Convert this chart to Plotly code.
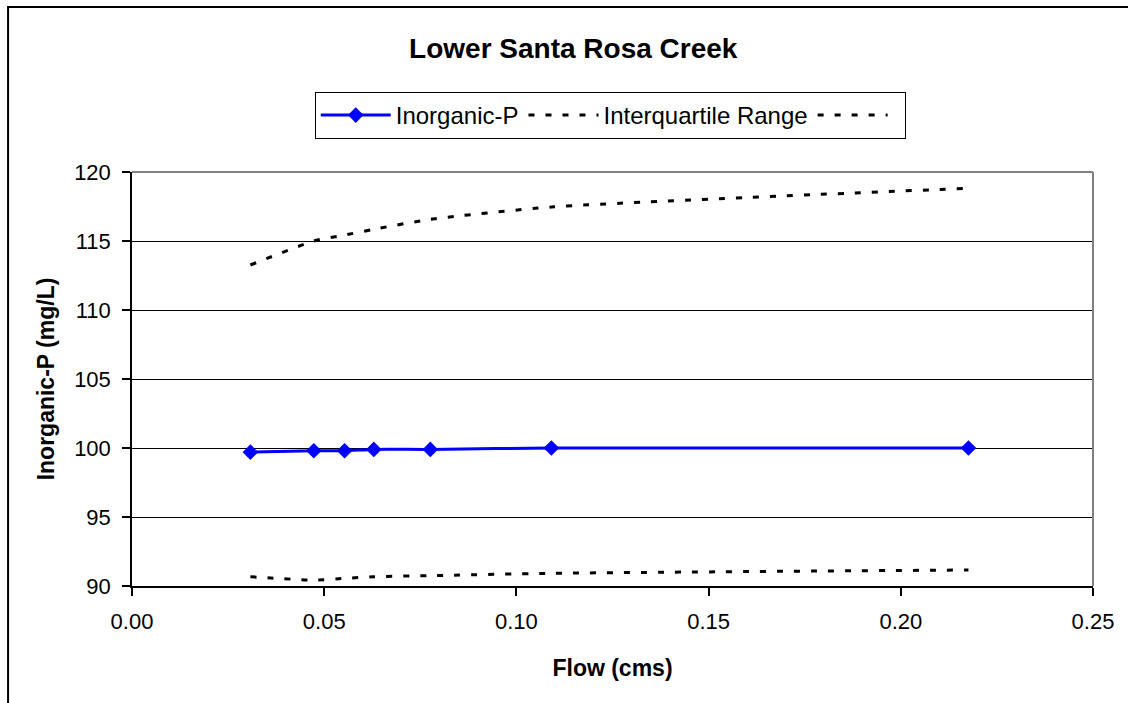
import plotly.graph_objects as go

flow = [0.0308, 0.0473, 0.0553, 0.0629, 0.0776, 0.1091, 0.2176]
inorganic_p = [99.7, 99.8, 99.8, 99.9, 99.9, 100.0, 100.0]
iqr_upper = [113.26, 115.0, 115.43, 115.85, 116.57, 117.46, 118.82]
iqr_lower = [90.67, 90.43, 90.55, 90.67, 90.75, 90.92, 91.16]

x_ticks = [0.0, 0.05, 0.10, 0.15, 0.20, 0.25]
y_ticks = [90, 95, 100, 105, 110, 115, 120]

FONT = "Liberation Sans, Arial, sans-serif"
W, H = 1128, 703
# plot-area edges in page pixels
L, R, T, B = 131.5, 1093, 172, 586

def px(x):
    return (x - L) / (R - L)

def py(y):
    return (B - y) / (B - T)

fig = go.Figure()
fig.add_trace(go.Scatter(
    x=flow, y=inorganic_p, name="Inorganic-P", mode="lines+markers",
    line=dict(color="#0000FF", width=3, shape="spline", smoothing=0.6),
    marker=dict(symbol="diamond", size=12, color="#0000FF"),
))
fig.add_trace(go.Scatter(
    x=flow, y=iqr_upper, name="Interquartile Range", mode="lines",
    line=dict(color="black", width=3, dash="6px,11px", shape="spline", smoothing=0.6),
))
fig.add_trace(go.Scatter(
    x=flow, y=iqr_lower, name=" ", mode="lines",
    line=dict(color="black", width=3, dash="6px,11px", shape="spline", smoothing=0.6),
))

fig.update_layout(
    width=W, height=H,
    margin=dict(l=L, r=W - R, t=T, b=H - B, pad=0),
    paper_bgcolor="white", plot_bgcolor="white",
    font=dict(family=FONT, size=22, color="black"),
    title=dict(text="<b>Lower Santa Rosa Creek</b>", x=px(573), xref="paper",
               xanchor="center", y=1 - 48 / H, yanchor="middle",
               font=dict(family=FONT, size=28, color="black")),
    legend=dict(orientation="h", x=px(610), xanchor="center", y=py(92), yanchor="top",
                bordercolor="black", borderwidth=1, bgcolor="white",
                font=dict(family=FONT, size=24, color="black"),
                itemwidth=70, tracegroupgap=0),
    showlegend=True,
)
fig.update_xaxes(
    range=[0, 0.25], tickvals=x_ticks, tickformat=".2f",
    showgrid=False, zeroline=False, showline=True, linecolor="black", linewidth=1.5,
    ticks="outside", ticklen=8, tickcolor="black", tickwidth=1.5,
    ticklabelstandoff=7,
    title=dict(text="<b>Flow (cms)</b>", font=dict(family=FONT, size=23), standoff=27),
)
fig.update_yaxes(
    range=[90, 120], tickvals=y_ticks,
    showgrid=True, gridcolor="black", gridwidth=1.4, zeroline=False,
    showline=True, linecolor="black", linewidth=1.5,
    ticks="outside", ticklen=8, tickcolor="black", tickwidth=1.5,
    ticklabelstandoff=7,
    title=dict(text="<b>Inorganic-P (mg/L)</b>", font=dict(family=FONT, size=23), standoff=13),
)

# plot-area border (gray top and right)
fig.add_shape(type="line", xref="paper", yref="paper", x0=0, x1=1, y0=1, y1=1,
              line=dict(color="#808080", width=2), layer="above")
fig.add_shape(type="line", xref="paper", yref="paper", x0=1, x1=1, y0=0, y1=1,
              line=dict(color="#808080", width=2), layer="above")
# outer chart border (left and top visible; right/bottom lie outside the picture)
fig.add_shape(type="rect", xref="paper", yref="paper",
              x0=px(7.5), x1=px(1150), y0=py(730), y1=py(7),
              line=dict(color="black", width=2), fillcolor="rgba(0,0,0,0)", layer="above")

fig.write_html("out.html", config={"displayModeBar": False},
               post_script="document.body.style.margin='0';document.body.style.overflow='hidden';")
